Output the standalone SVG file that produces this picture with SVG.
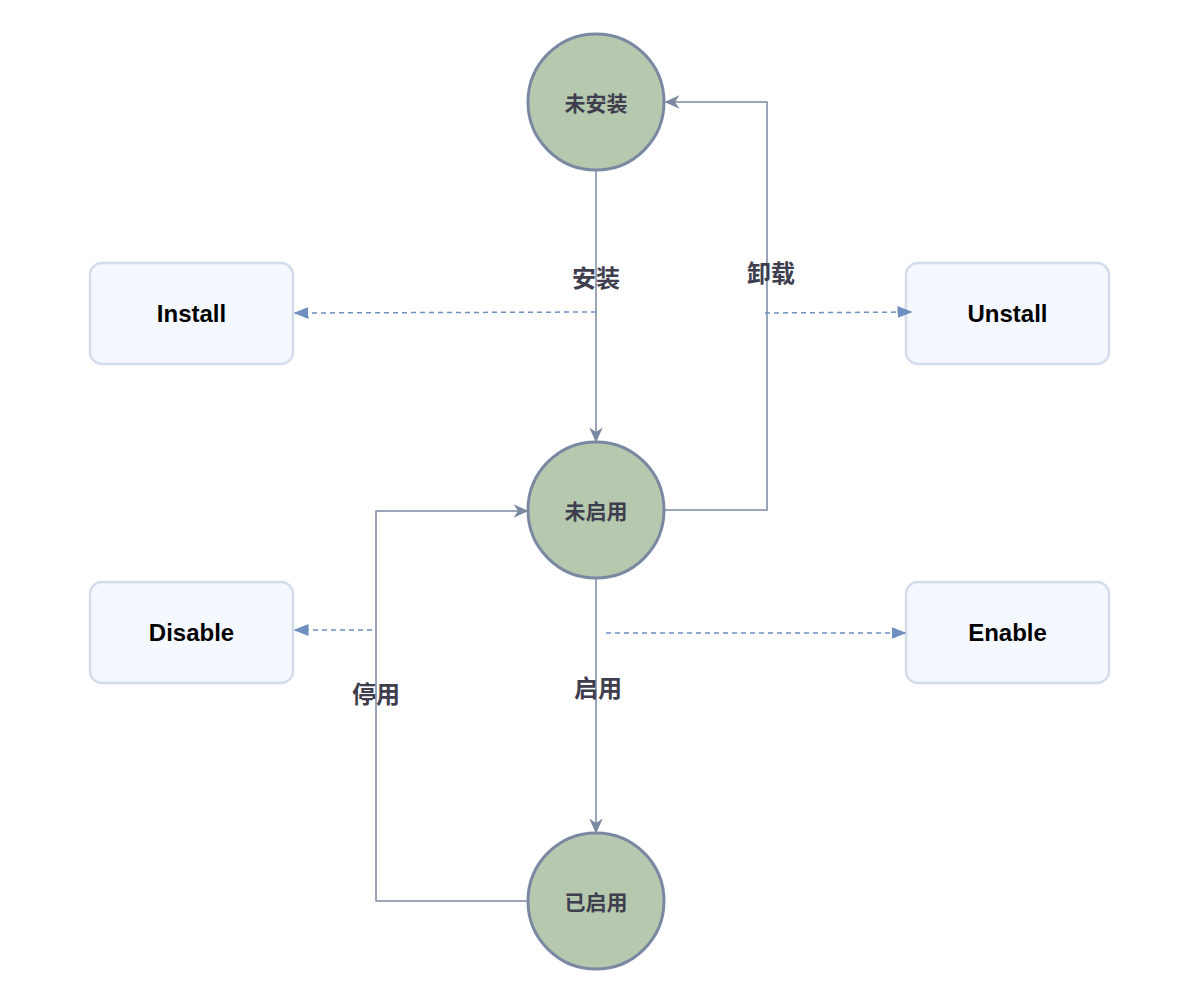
<svg xmlns="http://www.w3.org/2000/svg" width="1192" height="1008" viewBox="0 0 1192 1008">
  <style>
    .state circle { fill: #b6c9af; stroke: #7a88a1; stroke-width: 3; }
    .state text { font-family: "Noto Sans CJK SC", "Liberation Sans", sans-serif; font-size: 21px; font-weight: bold; fill: #3e3e4e; text-anchor: middle; dominant-baseline: central; }
    .action rect { fill: #f5f8fe; stroke: #d3dcea; stroke-width: 2.5; }
    .action text { font-family: "Liberation Sans", Arial, sans-serif; font-size: 24px; font-weight: bold; fill: #000; text-anchor: middle; dominant-baseline: central; }
    .flow { fill: none; stroke: #7a88a1; stroke-width: 1.5; }
    .hint { fill: none; stroke: #6f8fc0; stroke-width: 1.5; stroke-dasharray: 5 4; }
    .lbl { font-family: "Noto Sans CJK SC", "Liberation Sans", sans-serif; font-size: 24px; font-weight: bold; fill: #3e3e4e; text-anchor: middle; dominant-baseline: central; }
  </style>
  <defs>
    <marker id="arrow" viewBox="0 0 10 10" refX="9" refY="5" markerWidth="15" markerHeight="15" markerUnits="userSpaceOnUse" orient="auto">
      <path d="M0,0.5 L10,5 L0,9.5 L3,5 Z" fill="#7a88a1"/>
    </marker>
    <marker id="tri" viewBox="0 0 10 10" refX="9" refY="5" markerWidth="15" markerHeight="15" markerUnits="userSpaceOnUse" orient="auto">
      <path d="M0,1 L10,5 L0,9 Z" fill="#6f8fc0"/>
    </marker>
  </defs>
  <rect width="1192" height="1008" fill="#ffffff"/>

  <g id="state-uninstalled" class="state">
    <circle cx="596" cy="102" r="68"/>
    <text x="596" y="102">未安装</text>
  </g>
  <g id="state-disabled" class="state">
    <circle cx="596" cy="510" r="68"/>
    <text x="596" y="510">未启用</text>
  </g>
  <g id="state-enabled" class="state">
    <circle cx="596" cy="901" r="68"/>
    <text x="596" y="901">已启用</text>
  </g>

  <g id="action-install" class="action">
    <rect x="90" y="263" width="203" height="101" rx="12"/>
    <text x="191.5" y="313.5">Install</text>
  </g>
  <g id="action-unstall" class="action">
    <rect x="906" y="263" width="203" height="101" rx="12"/>
    <text x="1007.5" y="313.5">Unstall</text>
  </g>
  <g id="action-disable" class="action">
    <rect x="90" y="582" width="203" height="101" rx="12"/>
    <text x="191.5" y="632.5">Disable</text>
  </g>
  <g id="action-enable" class="action">
    <rect x="906" y="582" width="203" height="101" rx="12"/>
    <text x="1007.5" y="632.5">Enable</text>
  </g>

  <g id="connectors">
    <path class="flow" d="M596,171 L596,441" marker-end="url(#arrow)"/>
    <path class="flow" d="M665,510 L767,510 L767,102 L666,102" marker-end="url(#arrow)"/>
    <path class="flow" d="M596,579 L596,832" marker-end="url(#arrow)"/>
    <path class="flow" d="M527,901 L376,901 L376,511 L527,511" marker-end="url(#arrow)"/>
    <path class="hint" d="M596,312 L295,313" marker-end="url(#tri)"/>
    <path class="hint" d="M765,313 L911,312" marker-end="url(#tri)"/>
    <path class="hint" d="M372,630 L295,630" marker-end="url(#tri)"/>
    <path class="hint" d="M606,633 L905,633" marker-end="url(#tri)"/>
    <text class="lbl" x="596" y="276">安装</text>
    <text class="lbl" x="771" y="271">卸载</text>
    <text class="lbl" x="598" y="686">启用</text>
    <text class="lbl" x="376" y="692">停用</text>
  </g>
</svg>
